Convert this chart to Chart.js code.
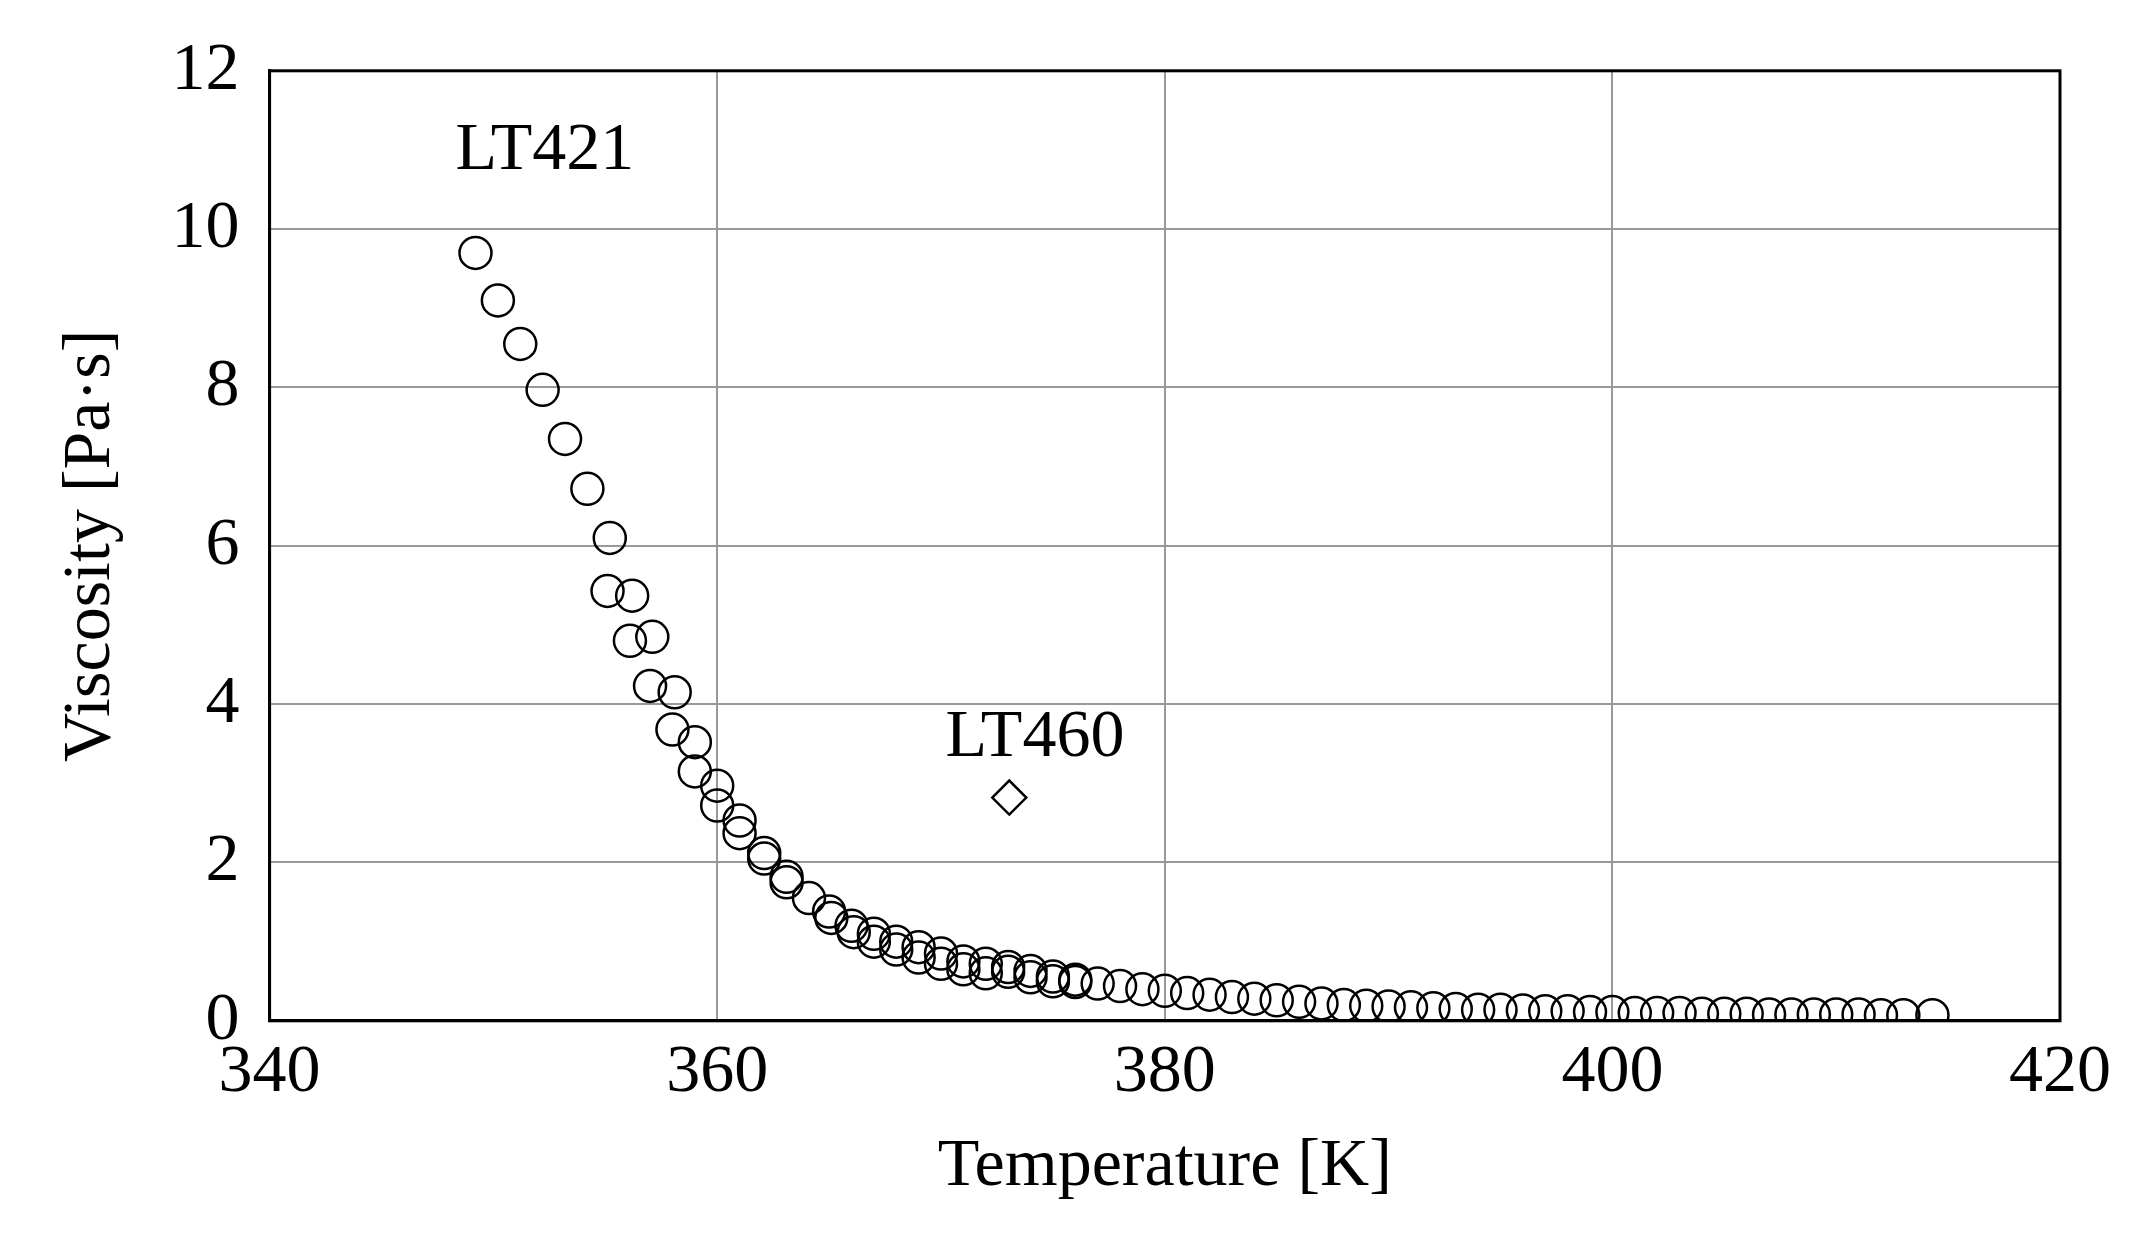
<!DOCTYPE html>
<html>
<head>
<meta charset="utf-8">
<script src="https://cdn.jsdelivr.net/npm/chart.js@4"></script>
<style>
  html, body { margin: 0; padding: 0; background: #fff; }
  canvas { display: block; }
</style>
</head>
<body>
<canvas id="chart" width="2150" height="1233"></canvas>
<script>
// LT421 series: temperature [K] and viscosity [Pa·s]
const lt421Temp = [
  349.2, 350.2, 351.2, 352.2, 353.2, 354.2, 355.2, 355.1, 356.2, 356.1, 357.1, 357.0, 358.1, 358.0,
  359.0, 359.0, 360.0, 360.0, 361.0, 361.0, 362.1, 362.1, 363.1, 363.1, 364.1, 365.0, 365.1,
  366.0, 366.1, 367.0, 367.0, 368.0, 368.0, 369.0, 369.0, 370.0, 370.0, 371.0, 371.0, 372.0,
  372.0, 373.0, 373.0, 374.0, 374.0, 375.0, 375.0, 376.0, 376.0, 377.0, 378.0, 379.0, 380.0,
  381.0, 382.0, 383.0, 384.0, 385.0, 386.0, 387.0, 388.0, 389.0, 390.0, 391.0, 392.0, 393.0,
  394.0, 395.0, 396.0, 397.0, 398.0, 399.0, 400.0, 401.0, 402.0, 403.0, 404.0, 405.0, 406.0,
  407.0, 408.0, 409.0, 410.0, 411.0, 412.0, 413.0, 414.3
];
const lt421Visc = [
  9.7, 9.1, 8.55, 7.97, 7.35, 6.72, 6.1, 5.43, 5.37, 4.8, 4.85, 4.23, 4.15, 3.68,
  3.52, 3.15, 2.97, 2.72, 2.53, 2.37, 2.12, 2.05, 1.82, 1.75, 1.55, 1.38, 1.3,
  1.2, 1.12, 1.1, 1.0, 1.0, 0.9, 0.93, 0.8, 0.85, 0.72, 0.75, 0.65, 0.72,
  0.6, 0.68, 0.62, 0.63, 0.55, 0.56, 0.5, 0.52, 0.49, 0.47, 0.44, 0.4, 0.38,
  0.35, 0.33, 0.3, 0.28, 0.26, 0.24, 0.22, 0.2, 0.19, 0.18, 0.17, 0.16, 0.15,
  0.14, 0.14, 0.13, 0.12, 0.12, 0.11, 0.11, 0.1, 0.1, 0.1, 0.09, 0.09, 0.09,
  0.08, 0.08, 0.08, 0.08, 0.08, 0.07, 0.07, 0.07
];
// LT460 single point
const lt460Temp = [373.05];
const lt460Visc = [2.82];
// label anchors (data coords)
const seriesLabels = [
  { text: 'LT421', x: 352.3, y: 10.98 },
  { text: 'LT460', x: 374.2, y: 3.57 }
];
const xMin = 340, xMax = 420, xStep = 20;
const yMin = 0, yMax = 12, yStep = 2;

const toPoints = (xs, ys) => xs.map((x, i) => ({ x: x, y: ys[i] }));
const FONT = '"Liberation Serif", "Times New Roman", serif';

const labelPlugin = {
  id: 'seriesLabels',
  afterDatasetsDraw(chart) {
    const ctx = chart.ctx;
    ctx.save();
    ctx.font = '68px ' + FONT;
    ctx.fillStyle = '#000';
    ctx.textAlign = 'center';
    ctx.textBaseline = 'middle';
    seriesLabels.forEach(l => {
      ctx.fillText(l.text, chart.scales.x.getPixelForValue(l.x), chart.scales.y.getPixelForValue(l.y));
    });
    ctx.restore();
  }
};

new Chart(document.getElementById('chart').getContext('2d'), {
  type: 'scatter',
  data: {
    datasets: [{
      label: 'LT421',
      data: toPoints(lt421Temp, lt421Visc),
      pointStyle: 'circle',
      pointRadius: 16,
      pointBorderWidth: 2.5,
      borderColor: '#000',
      backgroundColor: 'rgba(0,0,0,0)'
    }, {
      label: 'LT460',
      data: toPoints(lt460Temp, lt460Visc),
      pointStyle: 'rectRot',
      pointRadius: 17,
      pointBorderWidth: 2.5,
      borderColor: '#000',
      backgroundColor: 'rgba(0,0,0,0)'
    }]
  },
  options: {
    responsive: false,
    animation: false,
    layout: { padding: { top: 45, right: 90, bottom: 25, left: 40 } },
    plugins: { legend: { display: false }, tooltip: { enabled: false } },
    scales: {
      x: {
        type: 'linear', min: xMin, max: xMax,
        ticks: { stepSize: xStep, color: '#000', font: { family: FONT, size: 68 }, padding: 12 },
        grid: { color: '#999', lineWidth: 2, drawTicks: false },
        border: { color: '#000', width: 3 },
        title: { display: true, text: 'Temperature [K]', color: '#000', font: { family: FONT, size: 68 }, padding: 0 }
      },
      y: {
        min: yMin, max: yMax,
        ticks: { stepSize: yStep, color: '#000', font: { family: FONT, size: 68 }, padding: 30 },
        grid: { color: '#999', lineWidth: 2, drawTicks: false },
        border: { color: '#000', width: 3 },
        title: { display: true, text: 'Viscosity [Pa·s]', color: '#000', font: { family: FONT, size: 68 }, padding: 10 }
      }
    }
  },
  plugins: [labelPlugin, {
    id: 'frame',
    afterDraw(chart) {
      const a = chart.chartArea, ctx = chart.ctx;
      ctx.save();
      ctx.strokeStyle = '#000';
      ctx.lineWidth = 3;
      ctx.strokeRect(a.left, a.top, a.right - a.left, a.bottom - a.top);
      ctx.restore();
    }
  }]
});
</script>
</body>
</html>
